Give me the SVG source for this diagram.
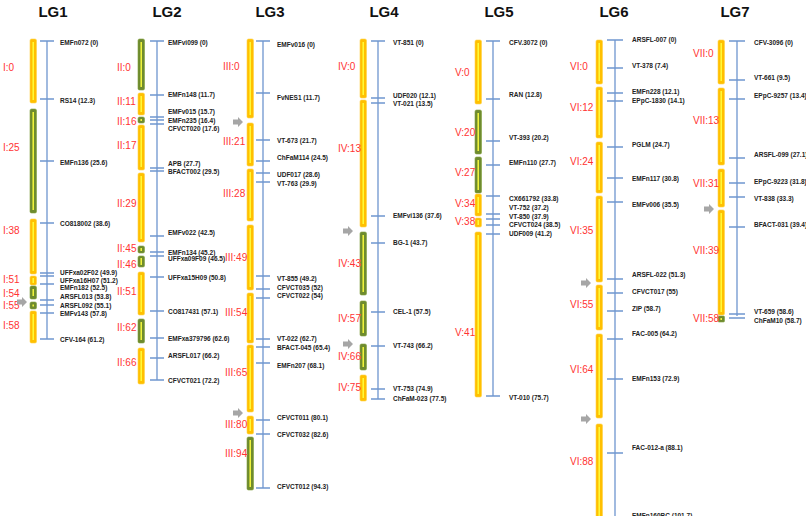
<svg xmlns="http://www.w3.org/2000/svg" xmlns:xlink="http://www.w3.org/1999/xlink" width="806" height="516" viewBox="0 0 806 516">
<style>
.t{font-family:"Liberation Sans",Arial,sans-serif;font-size:15px;font-weight:bold;fill:#111;text-anchor:middle}
.m{font-family:"Liberation Sans",Arial,sans-serif;font-size:6.5px;font-weight:bold;fill:#222}
.l{font-family:"Liberation Sans",Arial,sans-serif;font-size:10px;fill:#ff3333}
.ax{stroke:#6f96cf;stroke-width:1.3;fill:none}
.y{fill:#ffc000;stroke:#ffd24a;stroke-width:0.6}
.g{fill:#6e8b2e;stroke:#82a03e;stroke-width:0.6}
.in{stroke:#ffff40;stroke-width:1.4}
.ar{fill:#a6a6a6}
</style>
<defs>
<path id="arr" d="M0,-2.5 H5 V-5 L10,0 L5,5 V2.5 H0 Z"/>
</defs>
<rect width="806" height="516" fill="#fff"/>
<g id="titles">
<text class="t" x="53" y="17">LG1</text><text class="t" x="167" y="17">LG2</text><text class="t" x="270" y="17">LG3</text><text class="t" x="384" y="17">LG4</text><text class="t" x="499" y="17">LG5</text><text class="t" x="614" y="17">LG6</text><text class="t" x="735" y="17">LG7</text>
</g>
<g id="LG1">
<rect class="y" x="30" y="39" width="6.5" height="64" rx="1.5"/><line class="in" x1="33.2" y1="42" x2="33.2" y2="100"/>
<rect class="g" x="30" y="109" width="6.5" height="104" rx="1.5"/><line class="in" x1="33.2" y1="112" x2="33.2" y2="210"/>
<rect class="y" x="30" y="219" width="6.5" height="55" rx="1.5"/><line class="in" x1="33.2" y1="222" x2="33.2" y2="271"/>
<rect class="y" x="30" y="276" width="6.5" height="9" rx="1.5"/><line class="in" x1="33.2" y1="278" x2="33.2" y2="283"/>
<rect class="g" x="30" y="286" width="6.5" height="13" rx="1.5"/><line class="in" x1="33.2" y1="289" x2="33.2" y2="296"/>
<rect class="g" x="30" y="302" width="6.5" height="7" rx="1.5"/><line class="in" x1="33.2" y1="304.5" x2="33.2" y2="306.5"/>
<rect class="y" x="30" y="311" width="6.5" height="32" rx="1.5"/><line class="in" x1="33.2" y1="314" x2="33.2" y2="340"/>
<path class="ax" d="M47,41V339 M40,41H54 M40,99H54 M40,161H54 M40,223H54 M40,273H54 M40,276H54 M40,284H54 M40,300H54 M40,305H54 M40,313H54 M40,339H54"/>
<text class="m" x="60" y="44.5">EMFn072 (0)</text><text class="m" x="60" y="102.5">RS14 (12.3)</text><text class="m" x="60" y="164.5">EMFn136 (25.6)</text><text class="m" x="60" y="225.5">CO818002 (38.6)</text><text class="m" x="60" y="274.5">UFFxa02F02 (49.9)</text><text class="m" x="60" y="282.5">UFFxa16H07 (51.2)</text><text class="m" x="60" y="289.5">EMFn182 (52.5)</text><text class="m" x="60" y="298.5">ARSFL013 (53.8)</text><text class="m" x="60" y="307.5">ARSFL092 (55.1)</text><text class="m" x="60" y="315.5">EMFv143 (57.8)</text><text class="m" x="60" y="341.5">CFV-164 (61.2)</text>
<text class="l" x="3" y="70.5">I:0</text><text class="l" x="3" y="150.5">I:25</text><text class="l" x="3" y="233.5">I:38</text><text class="l" x="3" y="282.5">I:51</text><text class="l" x="3" y="296.5">I:54</text><text class="l" x="3" y="308.5">I:55</text><text class="l" x="3" y="328.5">I:58</text>
<use href="#arr" class="ar" x="17" y="302"/>
</g>
<g id="LG2">
<rect class="g" x="138" y="39" width="6.5" height="51" rx="1.5"/><line class="in" x1="141.2" y1="42" x2="141.2" y2="87"/>
<rect class="y" x="138" y="93" width="6.5" height="22" rx="1.5"/><line class="in" x1="141.2" y1="96" x2="141.2" y2="112"/>
<rect class="g" x="138" y="117" width="6.5" height="6" rx="1.5"/><line class="in" x1="141.2" y1="119" x2="141.2" y2="121"/>
<rect class="y" x="138" y="125" width="6.5" height="45" rx="1.5"/><line class="in" x1="141.2" y1="128" x2="141.2" y2="167"/>
<rect class="y" x="138" y="173" width="6.5" height="69" rx="1.5"/><line class="in" x1="141.2" y1="176" x2="141.2" y2="239"/>
<rect class="g" x="138" y="246" width="6.5" height="7" rx="1.5"/><line class="in" x1="141.2" y1="248" x2="141.2" y2="251"/>
<rect class="g" x="138" y="256" width="6.5" height="11" rx="1.5"/><line class="in" x1="141.2" y1="258" x2="141.2" y2="265"/>
<rect class="y" x="138" y="272" width="6.5" height="43" rx="1.5"/><line class="in" x1="141.2" y1="275" x2="141.2" y2="312"/>
<rect class="g" x="138" y="319" width="6.5" height="24" rx="1.5"/><line class="in" x1="141.2" y1="322" x2="141.2" y2="340"/>
<rect class="y" x="138" y="348" width="6.5" height="36" rx="1.5"/><line class="in" x1="141.2" y1="351" x2="141.2" y2="381"/>
<path class="ax" d="M157,41V380 M150,41H164 M150,95H164 M150,117H164 M150,120H164 M150,124H164 M150,168H164 M150,171H164 M150,236H164 M150,252H164 M150,256H164 M150,277H164 M150,311H164 M150,338H164 M150,358H164 M150,380H164"/>
<text class="m" x="168" y="44.5">EMFvi099 (0)</text><text class="m" x="168" y="96.5">EMFn148 (11.7)</text><text class="m" x="168" y="113.5">EMFv015 (15.7)</text><text class="m" x="168" y="122.5">EMFn235 (16.4)</text><text class="m" x="168" y="130.5">CFVCT020 (17.6)</text><text class="m" x="168" y="165.5">APB (27.7)</text><text class="m" x="168" y="173.5">BFACT002 (29.5)</text><text class="m" x="168" y="234.5">EMFv022 (42.5)</text><text class="m" x="168" y="254.5">EMFn134 (45.2)</text><text class="m" x="168" y="260.5">UFFxa09F09 (46.5)</text><text class="m" x="168" y="279.5">UFFxa15H09 (50.8)</text><text class="m" x="168" y="313.5">CO817431 (57.1)</text><text class="m" x="168" y="340.5">EMFxa379796 (62.6)</text><text class="m" x="168" y="357.5">ARSFL017 (66.2)</text><text class="m" x="168" y="382.5">CFVCT021 (72.2)</text>
<text class="l" x="117" y="70.5">II:0</text><text class="l" x="117" y="104.5">II:11</text><text class="l" x="117" y="124.5">II:16</text><text class="l" x="117" y="148.5">II:17</text><text class="l" x="117" y="206.5">II:29</text><text class="l" x="117" y="251.5">II:45</text><text class="l" x="117" y="267.5">II:46</text><text class="l" x="117" y="294.5">II:51</text><text class="l" x="117" y="330.5">II:62</text><text class="l" x="117" y="365.5">II:66</text>
</g>
<g id="LG3">
<rect class="y" x="247" y="39" width="6.5" height="79" rx="1.5"/><line class="in" x1="250.2" y1="42" x2="250.2" y2="115"/>
<rect class="y" x="247" y="123" width="6.5" height="43" rx="1.5"/><line class="in" x1="250.2" y1="126" x2="250.2" y2="163"/>
<rect class="y" x="247" y="169" width="6.5" height="52" rx="1.5"/><line class="in" x1="250.2" y1="172" x2="250.2" y2="218"/>
<rect class="y" x="247" y="225" width="6.5" height="65" rx="1.5"/><line class="in" x1="250.2" y1="228" x2="250.2" y2="287"/>
<rect class="y" x="247" y="293" width="6.5" height="50" rx="1.5"/><line class="in" x1="250.2" y1="296" x2="250.2" y2="340"/>
<rect class="y" x="247" y="345" width="6.5" height="67" rx="1.5"/><line class="in" x1="250.2" y1="348" x2="250.2" y2="409"/>
<rect class="y" x="247" y="416" width="6.5" height="18" rx="1.5"/><line class="in" x1="250.2" y1="419" x2="250.2" y2="431"/>
<rect class="g" x="247" y="437" width="6.5" height="53" rx="1.5"/><line class="in" x1="250.2" y1="440" x2="250.2" y2="487"/>
<path class="ax" d="M263,41V488 M256,41H270 M256,93H270 M256,140H270 M256,161H270 M256,173H270 M256,182H270 M256,276H270 M256,289H270 M256,298H270 M256,339H270 M256,347H270 M256,363H270 M256,420H270 M256,434H270 M256,488H270"/>
<text class="m" x="277" y="46.5">EMFv016 (0)</text><text class="m" x="277" y="99.5">FvNES1 (11.7)</text><text class="m" x="277" y="142.5">VT-673 (21.7)</text><text class="m" x="277" y="159.5">ChFaM114 (24.5)</text><text class="m" x="277" y="176.5">UDF017 (28.6)</text><text class="m" x="277" y="185.5">VT-763 (29.9)</text><text class="m" x="277" y="280.5">VT-855 (49.2)</text><text class="m" x="277" y="289.5">CFVCT035 (52)</text><text class="m" x="277" y="297.5">CFVCT022 (54)</text><text class="m" x="277" y="340.5">VT-022 (62.7)</text><text class="m" x="277" y="349.5">BFACT-045 (65.4)</text><text class="m" x="277" y="367.5">EMFn207 (68.1)</text><text class="m" x="277" y="419.5">CFVCT011 (80.1)</text><text class="m" x="277" y="436.5">CFVCT032 (82.6)</text><text class="m" x="277" y="488.5">CFVCT012 (94.3)</text>
<text class="l" x="223" y="69.5">III:0</text><text class="l" x="223" y="144.5">III:21</text><text class="l" x="223" y="196.5">III:28</text><text class="l" x="225" y="260.5">III:49</text><text class="l" x="225" y="315.5">III:54</text><text class="l" x="225" y="375.5">III:65</text><text class="l" x="225" y="427.5">III:80</text><text class="l" x="225" y="456.5">III:94</text>
<use href="#arr" class="ar" x="233" y="122"/><use href="#arr" class="ar" x="233" y="413"/>
</g>
<g id="LG4">
<rect class="y" x="360" y="39" width="6.5" height="59" rx="1.5"/><line class="in" x1="363.2" y1="42" x2="363.2" y2="95"/>
<rect class="y" x="360" y="100" width="6.5" height="127" rx="1.5"/><line class="in" x1="363.2" y1="103" x2="363.2" y2="224"/>
<rect class="g" x="360" y="232" width="6.5" height="63" rx="1.5"/><line class="in" x1="363.2" y1="235" x2="363.2" y2="292"/>
<rect class="g" x="360" y="301" width="6.5" height="35" rx="1.5"/><line class="in" x1="363.2" y1="304" x2="363.2" y2="333"/>
<rect class="g" x="360" y="344" width="6.5" height="26" rx="1.5"/><line class="in" x1="363.2" y1="347" x2="363.2" y2="367"/>
<rect class="y" x="360" y="375" width="6.5" height="26" rx="1.5"/><line class="in" x1="363.2" y1="378" x2="363.2" y2="398"/>
<path class="ax" d="M378,41V399 M371,41H385 M371,98H385 M371,103H385 M371,216H385 M371,243H385 M371,312H385 M371,346H385 M371,389H385 M371,399H385"/>
<text class="m" x="393" y="44.5">VT-851 (0)</text><text class="m" x="393" y="97.5">UDF020 (12.1)</text><text class="m" x="393" y="105.5">VT-021 (13.5)</text><text class="m" x="393" y="217.5">EMFvi136 (37.6)</text><text class="m" x="393" y="244.5">BG-1 (43.7)</text><text class="m" x="393" y="313.5">CEL-1 (57.5)</text><text class="m" x="393" y="347.5">VT-743 (66.2)</text><text class="m" x="393" y="390.5">VT-753 (74.9)</text><text class="m" x="393" y="400.5">ChFaM-023 (77.5)</text>
<text class="l" x="338" y="69.5">IV:0</text><text class="l" x="338" y="151.5">IV:13</text><text class="l" x="338" y="266.5">IV:43</text><text class="l" x="338" y="321.5">IV:57</text><text class="l" x="338" y="359.5">IV:66</text><text class="l" x="338" y="390.5">IV:75</text>
<use href="#arr" class="ar" x="343" y="231"/><use href="#arr" class="ar" x="343" y="344"/>
</g>
<g id="LG5">
<rect class="y" x="475" y="40" width="6.5" height="64" rx="1.5"/><line class="in" x1="478.2" y1="43" x2="478.2" y2="101"/>
<rect class="g" x="475" y="110" width="6.5" height="44" rx="1.5"/><line class="in" x1="478.2" y1="113" x2="478.2" y2="151"/>
<rect class="g" x="475" y="157" width="6.5" height="36" rx="1.5"/><line class="in" x1="478.2" y1="160" x2="478.2" y2="190"/>
<rect class="y" x="475" y="194" width="6.5" height="22" rx="1.5"/><line class="in" x1="478.2" y1="197" x2="478.2" y2="213"/>
<rect class="y" x="475" y="218" width="6.5" height="9" rx="1.5"/><line class="in" x1="478.2" y1="220" x2="478.2" y2="225"/>
<rect class="y" x="475" y="232" width="6.5" height="165" rx="1.5"/><line class="in" x1="478.2" y1="235" x2="478.2" y2="394"/>
<path class="ax" d="M493,41V396 M486,41H500 M486,99H500 M486,141H500 M486,165H500 M486,196H500 M486,214H500 M486,219H500 M486,225H500 M486,234H500 M486,396H500"/>
<text class="m" x="509" y="44.5">CFV.3072 (0)</text><text class="m" x="509" y="96.5">RAN (12.8)</text><text class="m" x="509" y="139.5">VT-393 (20.2)</text><text class="m" x="509" y="164.5">EMFn110 (27.7)</text><text class="m" x="509" y="200.5">CX661792 (33.8)</text><text class="m" x="509" y="209.5">VT-752 (37.2)</text><text class="m" x="509" y="218.5">VT-850 (37.9)</text><text class="m" x="509" y="226.5">CFVCT024 (38.5)</text><text class="m" x="509" y="235.5">UDF009 (41.2)</text><text class="m" x="509" y="399.5">VT-010  (75.7)</text>
<text class="l" x="455" y="75.5">V:0</text><text class="l" x="455" y="135.5">V:20</text><text class="l" x="455" y="175.5">V:27</text><text class="l" x="455" y="206.5">V:34</text><text class="l" x="455" y="224.5">V:38</text><text class="l" x="455" y="335.5">V:41</text>
</g>
<g id="LG6">
<rect class="y" x="596" y="40" width="6.5" height="44" rx="1.5"/><line class="in" x1="599.2" y1="43" x2="599.2" y2="81"/>
<rect class="y" x="596" y="87" width="6.5" height="51" rx="1.5"/><line class="in" x1="599.2" y1="90" x2="599.2" y2="135"/>
<rect class="y" x="596" y="142" width="6.5" height="51" rx="1.5"/><line class="in" x1="599.2" y1="145" x2="599.2" y2="190"/>
<rect class="y" x="596" y="196" width="6.5" height="86" rx="1.5"/><line class="in" x1="599.2" y1="199" x2="599.2" y2="279"/>
<rect class="y" x="596" y="285" width="6.5" height="45" rx="1.5"/><line class="in" x1="599.2" y1="288" x2="599.2" y2="327"/>
<rect class="y" x="596" y="334" width="6.5" height="84" rx="1.5"/><line class="in" x1="599.2" y1="337" x2="599.2" y2="415"/>
<rect class="y" x="596" y="424" width="6.5" height="100" rx="1.5"/><line class="in" x1="599.2" y1="427" x2="599.2" y2="520"/>
<path class="ax" d="M615,40V516 M607,40H623 M607,68H623 M607,93H623 M607,101H623 M607,147H623 M607,178H623 M607,202H623 M607,279H623 M607,293H623 M607,311H623 M607,339H623 M607,379H623 M607,453H623"/>
<text class="m" x="632" y="41.5">ARSFL-007 (0)</text><text class="m" x="632" y="67.5">VT-378 (7.4)</text><text class="m" x="632" y="93.5">EMFn228 (12.1)</text><text class="m" x="632" y="102.5">EPpC-1830 (14.1)</text><text class="m" x="632" y="146.5">PGLM (24.7)</text><text class="m" x="632" y="180.5">EMFn117 (30.8)</text><text class="m" x="632" y="206.5">EMFv006 (35.5)</text><text class="m" x="632" y="276.5">ARSFL-022 (51.3)</text><text class="m" x="632" y="293.5">CFVCT017 (55)</text><text class="m" x="632" y="310.5">ZIP (58.7)</text><text class="m" x="632" y="335.5">FAC-005 (64.2)</text><text class="m" x="632" y="380.5">EMFn153 (72.9)</text><text class="m" x="632" y="449.5">FAC-012-a (88.1)</text><text class="m" x="632" y="518">EMFn160BC (101.7)</text>
<text class="l" x="570" y="69.5">VI:0</text><text class="l" x="570" y="110.5">VI:12</text><text class="l" x="570" y="164.5">VI:24</text><text class="l" x="570" y="233.5">VI:35</text><text class="l" x="570" y="307.5">VI:55</text><text class="l" x="570" y="372.5">VI:64</text><text class="l" x="570" y="464.5">VI:88</text>
<use href="#arr" class="ar" x="581" y="283"/><use href="#arr" class="ar" x="581" y="419"/>
</g>
<g id="LG7">
<rect class="y" x="718" y="40" width="6.5" height="44" rx="1.5"/><line class="in" x1="721.2" y1="43" x2="721.2" y2="81"/>
<rect class="y" x="718" y="88" width="6.5" height="77" rx="1.5"/><line class="in" x1="721.2" y1="91" x2="721.2" y2="162"/>
<rect class="y" x="718" y="169" width="6.5" height="38" rx="1.5"/><line class="in" x1="721.2" y1="172" x2="721.2" y2="204"/>
<rect class="y" x="718" y="210" width="6.5" height="105" rx="1.5"/><line class="in" x1="721.2" y1="213" x2="721.2" y2="312"/>
<rect class="g" x="718" y="316" width="6.5" height="6" rx="1"/><line class="in" x1="721.2" y1="318" x2="721.2" y2="320"/>
<path class="ax" d="M737,41V316 M729,41H745 M729,80H745 M729,99H745 M729,158H745 M729,183H745 M729,197H745 M729,227H745 M729,314H745 M729,318H745"/>
<text class="m" x="754" y="44.5">CFV-3096 (0)</text><text class="m" x="754" y="79.5">VT-661 (9.5)</text><text class="m" x="754" y="97.5">EPpC-9257 (13.4)</text><text class="m" x="754" y="156.5">ARSFL-099 (27.1)</text><text class="m" x="754" y="183.5">EPpC-9223 (31.8)</text><text class="m" x="754" y="200.5">VT-838 (33.3)</text><text class="m" x="754" y="226.5">BFACT-031 (39.4)</text><text class="m" x="754" y="313.5">VT-659 (58.6)</text><text class="m" x="754" y="322.5">ChFaM10 (58.7)</text>
<text class="l" x="693" y="56.5">VII:0</text><text class="l" x="693" y="123.5">VII:13</text><text class="l" x="693" y="186.5">VII:31</text><text class="l" x="693" y="253.5">VII:39</text><text class="l" x="693" y="321.5">VII:58</text>
<use href="#arr" class="ar" x="704" y="209"/>
</g>
</svg>
